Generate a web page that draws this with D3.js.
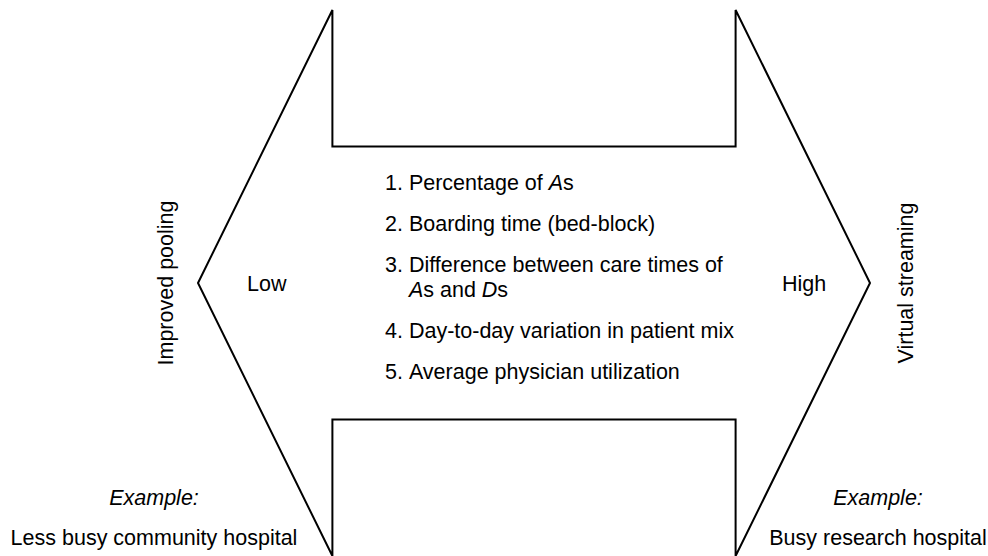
<!DOCTYPE html>
<html lang="en">
<head>
<meta charset="utf-8">
<title>Pooling vs streaming</title>
<style>
body { margin: 0; background: #fff; }
text {
  font-family: "Liberation Sans", Arial, Helvetica, sans-serif;
  font-size: 21.5px;
  fill: #000;
}
.arrow {
  fill: none;
  stroke: #000;
  stroke-width: 2px;
  stroke-linejoin: miter;
}
</style>
</head>
<body>
<div id="chart"></div>
<script src="https://d3js.org/d3.v7.min.js"></script>
<script>

// double arrow outline, in arrow units (x: tip to tip, y: -1 top .. 1 bottom)
var arrowX = [0, 0.2, 0.2, 0.8, 0.8, 1, 0.8, 0.8, 0.2, 0.2];
var arrowY = [0, -1, -0.5, -0.5, -1, 0, 1, 0.5, 0.5, 1];

var endLabels = ["Low", "High"];
var sideLabels = ["Improved pooling", "Virtual streaming"];
var exampleTitle = "Example:";
var exampleLabels = ["Less busy community hospital", "Busy research hospital"];

// factors, italic parts between * *, second lines for wrapped items
var factorNums = ["1.", "2.", "3.", "4.", "5."];
var factorLines = [
  ["Percentage of *A*s"],
  ["Boarding time (bed-block)"],
  ["Difference between care times of", "*A*s and *D*s"],
  ["Day-to-day variation in patient mix"],
  ["Average physician utilization"]
];

var width = 988, height = 556;

var svg = d3.select("#chart")
  .append("svg")
  .attr("width", width)
  .attr("height", height);

var x = d3.scaleLinear().domain([0, 1]).range([198, 870]);
var y = d3.scaleLinear().domain([-1, 1]).range([10, 556]);

var outline = d3.line()
  .x(function(d) { return x(d[0]); })
  .y(function(d) { return y(d[1]); });

svg.append("path")
  .attr("class", "arrow")
  .attr("d", outline(d3.zip(arrowX, arrowY)) + "Z");

// Low / High
svg.selectAll(".end")
  .data(endLabels)
  .enter().append("text")
  .attr("class", "end")
  .attr("x", function(d, i) { return i == 0 ? x(0.073) : x(0.869); })
  .attr("y", y(0) + 8)
  .text(function(d) { return d; });

// rotated labels outside the tips
svg.selectAll(".side")
  .data(sideLabels)
  .enter().append("text")
  .attr("class", "side")
  .attr("text-anchor", "middle")
  .attr("transform", function(d, i) {
    var px = i == 0 ? 173 : 913;
    return "translate(" + px + "," + y(0) + ") rotate(-90)";
  })
  .text(function(d) { return d; });

// examples at the bottom corners
var exX = [154, 878];
exampleLabels.forEach(function(lbl, i) {
  svg.append("text")
    .attr("x", exX[i])
    .attr("y", 505)
    .attr("text-anchor", "middle")
    .style("font-style", "italic")
    .text(exampleTitle);
  svg.append("text")
    .attr("x", exX[i])
    .attr("y", 545)
    .attr("text-anchor", "middle")
    .text(lbl);
});

// numbered list in the middle
function addRich(sel, str) {
  str.split("*").forEach(function(part, k) {
    if (!part) return;
    sel.append("tspan")
      .style("font-style", k % 2 ? "italic" : null)
      .text(part);
  });
}

var listX = 385, itemGap = 41, wrapGap = 24.5;
var rowY = d3.scaleLinear().domain([0, 1]).range([190, 190 + itemGap]);

var extra = 0;
factorLines.forEach(function(lines, i) {
  var by = rowY(i) + extra;
  var num = svg.append("text")
    .attr("x", listX)
    .attr("y", by)
    .text(factorNums[i] + "\u00a0");
  var indent = listX + num.node().getComputedTextLength();
  lines.forEach(function(line, j) {
    var t = svg.append("text")
      .attr("x", indent)
      .attr("y", by + j * wrapGap);
    addRich(t, line);
  });
  extra += (lines.length - 1) * wrapGap;
});

</script>
</body>
</html>
